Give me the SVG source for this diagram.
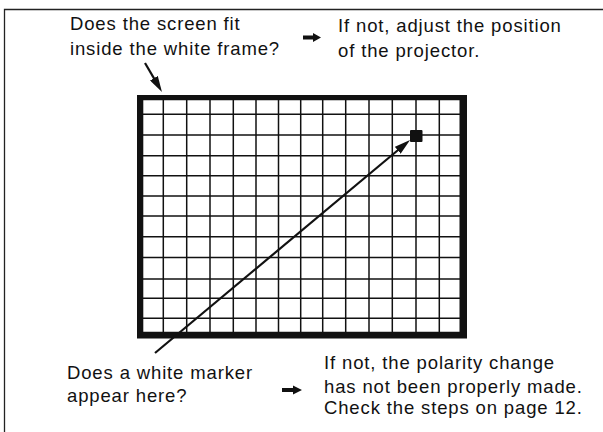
<svg xmlns="http://www.w3.org/2000/svg" width="603" height="432" viewBox="0 0 603 432">
  <style>
    .t { font-family: "Liberation Sans", Arial, Helvetica, sans-serif; font-size: 18.5px; letter-spacing: 0.86px; fill: #111; }
    .grid line { stroke: #111; stroke-width: 1.5; }
    .conn { stroke: #111; stroke-width: 2.2; fill: none; }
    .fat { fill: #111; }
  </style>
  <defs>
    <marker id="ah" viewBox="0 0 16 9" markerWidth="16" markerHeight="9" refX="2" refY="4.5" orient="auto" markerUnits="userSpaceOnUse">
      <path d="M0,0 L16,4.5 L0,9 z" fill="#111"/>
    </marker>
  </defs>
  <rect x="0" y="0" width="603" height="432" fill="#fff"/>
  <g id="border">
    <path d="M4.5,432 V9.5 H603" fill="none" stroke="#222" stroke-width="1.3"/>
  </g>

  <g id="screen">
    <path d="M137,95 H467 V338.5 H137 Z M143.3,100.3 V331.7 H459.5 V100.3 Z" fill="#111" fill-rule="evenodd"/>
    <g class="grid">
      <line x1="163.3" y1="100" x2="163.3" y2="332"/>
      <line x1="186.7" y1="100" x2="186.7" y2="332"/>
      <line x1="210" y1="100" x2="210" y2="332"/>
      <line x1="233.3" y1="100" x2="233.3" y2="332"/>
      <line x1="256" y1="100" x2="256" y2="332"/>
      <line x1="278.5" y1="100" x2="278.5" y2="332"/>
      <line x1="300.7" y1="100" x2="300.7" y2="332"/>
      <line x1="322.7" y1="100" x2="322.7" y2="332"/>
      <line x1="345.7" y1="100" x2="345.7" y2="332"/>
      <line x1="369" y1="100" x2="369" y2="332"/>
      <line x1="392.3" y1="100" x2="392.3" y2="332"/>
      <line x1="416" y1="100" x2="416" y2="332"/>
      <line x1="439.3" y1="100" x2="439.3" y2="332"/>
      <line x1="143" y1="114.3" x2="460" y2="114.3"/>
      <line x1="143" y1="135" x2="460" y2="135"/>
      <line x1="143" y1="155.7" x2="460" y2="155.7"/>
      <line x1="143" y1="175.7" x2="460" y2="175.7"/>
      <line x1="143" y1="196" x2="460" y2="196"/>
      <line x1="143" y1="216" x2="460" y2="216"/>
      <line x1="143" y1="236.7" x2="460" y2="236.7"/>
      <line x1="143" y1="257.5" x2="460" y2="257.5"/>
      <line x1="143" y1="279" x2="460" y2="279"/>
      <line x1="143" y1="298.3" x2="460" y2="298.3"/>
      <line x1="143" y1="318.3" x2="460" y2="318.3"/>
    </g>
  </g>

  <g id="marker-square">
    <rect x="410" y="130" width="12.5" height="12" rx="1" fill="#111"/>
  </g>

  <g id="q-frame">
    <text class="t" x="70" y="30">Does the screen fit</text>
    <text class="t" x="70" y="55">inside the white frame?</text>
  </g>
  <g id="a-frame">
    <text class="t" x="338" y="31.5">If not, adjust the position</text>
    <text class="t" x="338" y="57">of the projector.</text>
  </g>
  <g id="q-marker">
    <text class="t" x="67" y="378.5">Does a white marker</text>
    <text class="t" x="67" y="401.5">appear here?</text>
  </g>
  <g id="a-marker">
    <text class="t" x="324" y="369">If not, the polarity change</text>
    <text class="t" x="324" y="392.5">has not been properly made.</text>
    <text class="t" x="324" y="414">Check the steps on page 12.</text>
  </g>

  <g id="connectors">
    <line class="conn" x1="145" y1="63" x2="154.9" y2="79.9" marker-end="url(#ah)"/>
    <line class="conn" x1="155" y1="353" x2="399.3" y2="149" marker-end="url(#ah)"/>
    <path class="fat" d="M303,35.5 H313 V33 L321,37.5 L313,42 V39.5 H303 Z"/>
    <path class="fat" d="M282,388 H293 V385.5 L302,390 L293,394.5 V392 H282 Z"/>
  </g>
</svg>
